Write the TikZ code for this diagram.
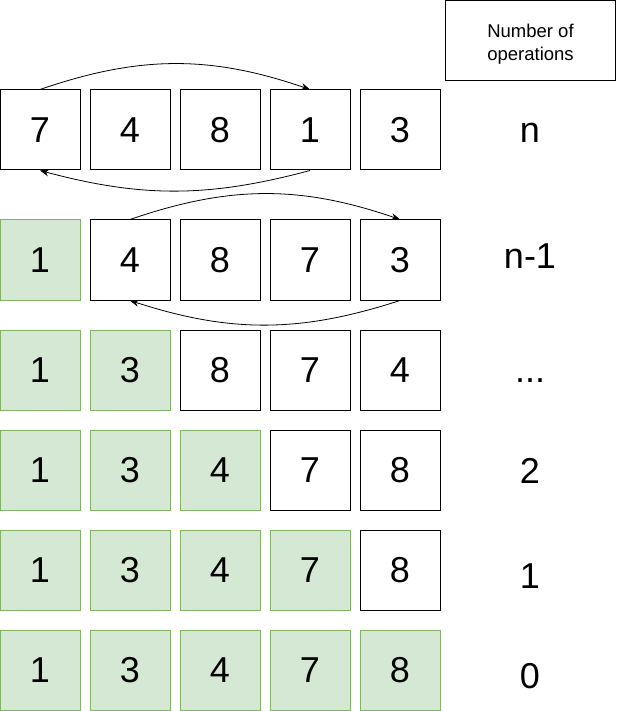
\documentclass[tikz,border=0pt]{standalone}
\usepackage{fontspec}
\setmainfont{Liberation Sans}
\usetikzlibrary{arrows.meta}
\usetikzlibrary{positioning}

\definecolor{doneFill}{HTML}{D5E8D4}
\definecolor{doneLine}{HTML}{82B366}

\tikzset{
  cell/.style={draw, line width=1pt, minimum size=80pt, inner sep=0pt,
    font=\fontsize{36}{40}\selectfont},
  done/.style={cell, fill=doneFill, draw=doneLine},
  opcount/.style={anchor=base, font=\fontsize{36}{40}\selectfont},
  swaparrow/.style={->, line width=0.8pt, >={Stealth[length=9pt,width=7pt]}},
}

\begin{document}
\begin{tikzpicture}[x=1pt, y=1pt]
        \useasboundingbox (0,0) rectangle (616,-711);
        % one row per pass, sorted cells in green
        \foreach \y/\vals/\k [count=\row] in {130/{7,4,8,1,3}/0, 260/{1,4,8,7,3}/1,
                                              370/{1,3,8,7,4}/2, 470/{1,3,4,7,8}/3,
                                              570/{1,3,4,7,8}/4, 670/{1,3,4,7,8}/5}
           \foreach \v [count=\col] in \vals {
              \ifnum\col>\k\relax \tikzset{cur/.style={cell}}\else \tikzset{cur/.style={done}}\fi
              \node[cur] (r\row c\col) at ({90*\col-50}, -\y) {\v};
           }
        \node[draw, line width=1pt, minimum width=170pt, minimum height=80pt, align=center,
              font=\fontsize{18.5}{23}\selectfont] (head) at (530.5, -40.5)
              {\rule{0pt}{21pt}Number of\\operations};
        \foreach \b/\t [count=\row] in {143/n, 268/n-1, 382/{...}, 483/2, 588/1, 688/0}
           \node[opcount] (ops\row) at (530, -\b) {\t};
        \draw[swaparrow] (r1c1.north) to[bend left=19] (r1c4.north);
        \draw[swaparrow] (r1c4.south) to[bend left=15] (r1c1.south);
        \draw[swaparrow] (r2c2.north) to[bend left=19] (r2c5.north);
        \draw[swaparrow] (r2c5.south) to[bend left=18] (r2c2.south);
\end{tikzpicture}
\end{document}
